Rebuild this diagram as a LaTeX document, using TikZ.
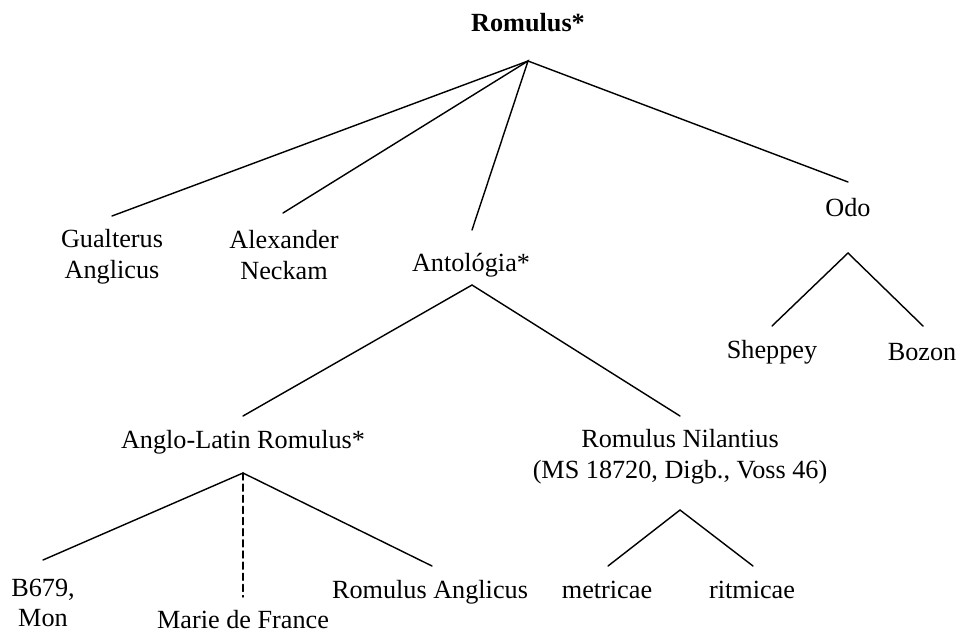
\documentclass[tikz,border=0pt]{standalone}
\usepackage{fontspec}
\setmainfont{Liberation Serif}
\usetikzlibrary{positioning}

\begin{document}
\begin{tikzpicture}[x=0.4577pt, y=-0.4577pt,
		witness/.style={inner sep=0pt, align=center,
			font=\fontsize{12}{14}\selectfont},
		rootwitness/.style={witness, font=\fontsize{12}{14}\selectfont\bfseries},
		branch/.style={line width=0.65pt, line cap=round},
		uncertain/.style={branch, dash pattern=on 3.2pt off 1.9pt}
		]
		\useasboundingbox (0,0) rectangle (960,634);
		% texts
		\node[rootwitness] (romulus) at (528,23) {Romulus*};
		\node[witness] (gualterus) at (112,257) {Gualterus\\Anglicus};
		\node[witness] (alexander) at (284,255) {Alexander\\Neckam};
		\node[witness] (antologia) at (471,265) {Antológia*};
		\node[witness] (odo) at (848,208) {Odo};
		\node[witness] (sheppey) at (772,352) {Sheppey};
		\node[witness] (bozon) at (922,352) {Bozon};
		\node[witness] (anglolatin) at (243,442) {Anglo-Latin Romulus*};
		\node[witness] (nilantius) at (680,457) {Romulus Nilantius\\(MS 18720, Digb., Voss 46)};
		\node[witness] (b679) at (43,603) {B679,\\Mon};
		\node[witness] (marie) at (243,620) {Marie de France};
		\node[witness] (anglicus) at (430,592) {Romulus Anglicus};
		\node[witness] (metricae) at (607,590) {metricae};
		\node[witness] (ritmicae) at (752,590) {ritmicae};
		% forks below the parents
		\coordinate (romulus-fork) at (528,61);
		\coordinate (antologia-fork) at (472,285);
		\coordinate (odo-fork) at (848,253);
		\coordinate (anglolatin-fork) at (243,473);
		\coordinate (nilantius-fork) at (680,510);
		% tips above the children
		\coordinate (gualterus-tip) at (112,216);
		\coordinate (alexander-tip) at (283,213);
		\coordinate (antologia-tip) at (472,230);
		\coordinate (odo-tip) at (848,182);
		\coordinate (sheppey-tip) at (772,326);
		\coordinate (bozon-tip) at (923,326);
		\coordinate (anglolatin-tip) at (243,416);
		\coordinate (nilantius-tip) at (680,416);
		\coordinate (b679-tip) at (43,560);
		\coordinate (marie-tip) at (243,597);
		\coordinate (anglicus-tip) at (432,566);
		\coordinate (metricae-tip) at (608,566);
		\coordinate (ritmicae-tip) at (753,566);
		% branches
		\draw[branch] (gualterus-tip) -- (romulus-fork) -- (odo-tip);
		\draw[branch] (alexander-tip) -- (romulus-fork) -- (antologia-tip);
		\draw[branch] (anglolatin-tip) -- (antologia-fork) -- (nilantius-tip);
		\draw[branch] (sheppey-tip) -- (odo-fork) -- (bozon-tip);
		\draw[branch] (b679-tip) -- (anglolatin-fork) -- (anglicus-tip);
		\draw[uncertain] (anglolatin-fork) -- (marie-tip);
		\draw[branch] (metricae-tip) -- (nilantius-fork) -- (ritmicae-tip);
	\end{tikzpicture}
\end{document}
